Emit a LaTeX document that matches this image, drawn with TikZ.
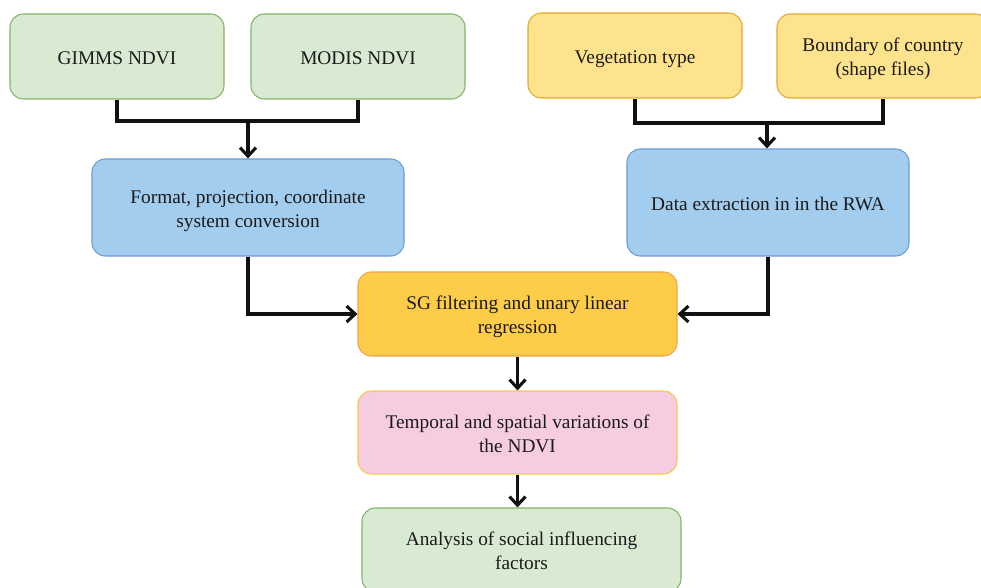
\documentclass[tikz,border=0pt]{standalone}
\usepackage{fontspec}
\setmainfont{Liberation Serif}
\usetikzlibrary{arrows.meta}
\definecolor{gfill}{HTML}{D9EAD3}
\definecolor{gdraw}{HTML}{82B366}
\definecolor{yfill}{HTML}{FEE38E}
\definecolor{ydraw}{HTML}{E2AA2C}
\definecolor{bfill}{HTML}{A3CDEE}
\definecolor{bdraw}{HTML}{6C9BD2}
\definecolor{ofill}{HTML}{FDCC48}
\definecolor{odraw}{HTML}{F5A14A}
\definecolor{pfill}{HTML}{F6CCE1}
\definecolor{pdraw}{HTML}{F7C84A}
\definecolor{txt}{HTML}{1A1A1A}
\definecolor{ln}{HTML}{111111}
\newcommand{\lowtxt}[1]{\raisebox{-2.3pt}[\height][\depth]{\begin{tabular}{@{}c@{}}#1\end{tabular}}}
\tikzset{
  box/.style={draw, line width=0.8pt, rounded corners=10pt, inner sep=0pt, align=center,
    text=txt, font=\fontsize{14.5}{18}\selectfont},
  greenbox/.style={box, fill=gfill, draw=gdraw},
  yellowbox/.style={box, fill=yfill, draw=ydraw},
  bluebox/.style={box, fill=bfill, draw=bdraw},
  orangebox/.style={box, fill=ofill, draw=odraw},
  pinkbox/.style={box, fill=pfill, draw=pdraw},
  conn/.style={draw=ln, line width=2.3pt, line join=miter},
  arr/.style={conn, -{Straight Barb[length=6.5pt,width=12pt,line width=2.3pt]}}
}
\begin{document}
\begin{tikzpicture}[x=0.75pt,y=-0.75pt]
\useasboundingbox (0,0) rectangle (981,588);
\node[greenbox, minimum width=160.5pt, minimum height=63.75pt] (gimms) at (117,56.5) {\lowtxt{GIMMS NDVI}};
\node[greenbox, minimum width=160.5pt, minimum height=63.75pt] (modis) at (358,56.5) {\lowtxt{MODIS NDVI}};
\node[yellowbox, minimum width=160.5pt, minimum height=63.75pt] (veg) at (635,55.5) {\lowtxt{Vegetation type}};
\node[yellowbox, minimum width=159pt, minimum height=63pt] (bound) at (883,56) {\lowtxt{Boundary of country\\(shape files)}};
\node[bluebox, minimum width=234pt, minimum height=72.75pt] (format) at (248,207.5) {\lowtxt{Format, projection, coordinate\\system conversion}};
\node[bluebox, minimum width=211.5pt, minimum height=80.25pt] (dataex) at (768,202.5) {\lowtxt{Data extraction in in the RWA}};
\node[orangebox, minimum width=239.25pt, minimum height=63pt] (sg) at (517.5,314) {\lowtxt{SG filtering and unary linear\\regression}};
\node[pinkbox, minimum width=239.25pt, minimum height=62.25pt] (temp) at (517.5,432.5) {\lowtxt{Temporal and spatial variations of\\the NDVI}};
\node[greenbox, minimum width=239.25pt, minimum height=63pt] (anal) at (521.5,550) {\lowtxt{Analysis of social influencing\\factors}};
\coordinate (j1) at (248,121);
\coordinate (j2) at (767,123);
\draw[conn] (gimms.south) |- (j1);
\draw[conn] (modis.south) |- (j1);
\draw[arr] (j1) -- (format.north);
\draw[conn] (veg.south) |- (j2);
\draw[conn] (bound.south) |- (j2);
\draw[arr] (j2) -- (j2 |- dataex.north);
\draw[arr] (format.south) |- (sg.west);
\draw[arr] (dataex.south) |- (sg.east);
\draw[arr] (sg.south) -- (sg.south |- temp.north);
\draw[arr] (temp.south) -- (temp.south |- anal.north);
\end{tikzpicture}
\end{document}
